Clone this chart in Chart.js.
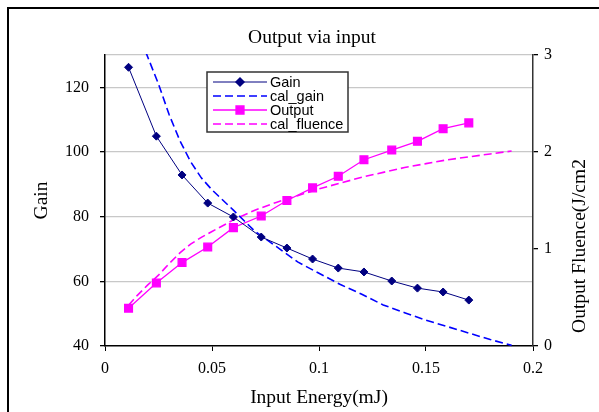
<!DOCTYPE html>
<html><head><meta charset="utf-8">
<script src="https://cdn.jsdelivr.net/npm/chart.js@4.4.0/dist/chart.umd.min.js"></script>
<style>
html,body{margin:0;padding:0;background:#fff;}
#wrap{position:relative;width:599px;height:412px;overflow:hidden;background:#fff;}
#frame{position:absolute;left:7px;top:7px;width:700px;height:500px;border:2px solid #000;box-sizing:border-box;}
canvas{position:absolute;left:0;top:0;}
</style></head><body>
<div id="wrap"><div id="frame"></div><canvas id="c" width="599" height="412"></canvas></div>
<script>
// ---- data ----
const chartTitle = "Output via input";
const xTitle = "Input Energy(mJ)";
const leftTitle = "Gain";
const rightTitle = "Output Fluence(J/cm2";
const seriesNames = ["Gain", "cal_gain", "Output", "cal_fluence"];

const inputEnergy = [0.011, 0.024, 0.036, 0.048, 0.06, 0.073, 0.085, 0.097, 0.109, 0.121, 0.134, 0.146, 0.158, 0.17];
const gain        = [126.2, 104.9, 92.9, 84.2, 79.9, 73.7, 70.3, 66.9, 64.1, 62.9, 60.1, 57.9, 56.7, 54.2];
const output      = [0.39, 0.65, 0.86, 1.02, 1.22, 1.34, 1.50, 1.63, 1.75, 1.92, 2.02, 2.11, 2.24, 2.30];

const calGainEnergy = [0.019, 0.025, 0.03, 0.035, 0.04, 0.045, 0.05, 0.06, 0.07, 0.08, 0.09, 0.1, 0.11, 0.12, 0.13, 0.14, 0.15, 0.16, 0.17, 0.18, 0.19];
const calGain       = [131, 121, 111.5, 103.5, 97, 92, 88.3, 82, 75.5, 70.8, 66, 62.5, 59, 56, 52.7, 50.3, 48, 46, 44, 42, 40.2];

const calFluenceEnergy = [0.011, 0.015, 0.02, 0.025, 0.03, 0.035, 0.04, 0.045, 0.05, 0.06, 0.07, 0.08, 0.09, 0.1, 0.11, 0.12, 0.13, 0.14, 0.15, 0.16, 0.17, 0.18, 0.19];
const calFluence       = [0.42, 0.52, 0.63, 0.73, 0.85, 0.96, 1.05, 1.12, 1.18, 1.30, 1.40, 1.48, 1.55, 1.62, 1.68, 1.74, 1.79, 1.84, 1.88, 1.92, 1.95, 1.98, 2.01];

const xTicks = [0, 0.05, 0.1, 0.15, 0.2];
const leftTicks = [40, 60, 80, 100, 120];
const rightTicks = [0, 1, 2, 3];

const pts = (xs, ys) => xs.map((x, i) => ({x: x, y: ys[i]}));
const SERIF = "'Liberation Serif','Times New Roman',serif";
const SANS = "'Liberation Sans',Arial,sans-serif";

const legendPlugin = {
  id: 'boxLegend',
  afterDraw(chart) {
    const ctx = chart.ctx;
    const x0 = 207, y0 = 72, w = 141, h = 60;
    ctx.save();
    ctx.fillStyle = '#fff';
    ctx.fillRect(x0, y0, w, h);
    ctx.strokeStyle = '#333';
    ctx.lineWidth = 1.5;
    ctx.strokeRect(x0, y0, w, h);
    const rows = [82, 96, 110, 124];
    chart.data.datasets.forEach((ds, i) => {
      const y = rows[i];
      ctx.save();
      ctx.strokeStyle = ds.borderColor;
      ctx.lineWidth = ds.borderWidth;
      ctx.setLineDash(ds.borderDash || []);
      ctx.beginPath();
      ctx.moveTo(213, y);
      ctx.lineTo(267, y);
      ctx.stroke();
      ctx.restore();
      if (ds.pointRadius > 0) {
        ctx.fillStyle = ds.pointBackgroundColor;
        ctx.strokeStyle = ds.pointBorderColor;
        Chart.helpers.drawPoint(ctx, {pointStyle: ds.pointStyle, radius: ds.pointRadius, borderWidth: 1, rotation: 0}, 240, y);
      }
      ctx.fillStyle = '#000';
      ctx.font = "14.5px " + SANS;
      ctx.textBaseline = 'middle';
      ctx.textAlign = 'left';
      ctx.fillText(ds.label, 270, y + 0.5);
    });
    ctx.restore();
  }
};

const titlesPlugin = {
  id: 'extraTitles',
  afterDraw(chart) {
    const ctx = chart.ctx;
    ctx.save();
    ctx.fillStyle = '#000';
    ctx.textAlign = 'center';
    ctx.textBaseline = 'middle';
    ctx.font = "19.5px " + SERIF;
    ctx.fillText(chartTitle, 312, 38);
    ctx.translate(580, 246);
    ctx.rotate(-Math.PI / 2);
    ctx.font = "19.5px " + SERIF;
    ctx.fillText(rightTitle, 0, 0);
    ctx.restore();
  }
};

new Chart(document.getElementById('c'), {
  type: 'scatter',
  data: {
    datasets: [
      {label: seriesNames[0], data: pts(inputEnergy, gain), yAxisID: 'y', showLine: true,
       borderColor: '#000080', backgroundColor: '#000080', borderWidth: 1,
       pointStyle: 'rectRot', pointRadius: 4, pointBackgroundColor: '#000080', pointBorderColor: '#000080', clip: 1},
      {label: seriesNames[1], data: pts(calGainEnergy, calGain), yAxisID: 'y', showLine: true,
       borderColor: '#0000ff', backgroundColor: '#0000ff', borderWidth: 1.6, borderDash: [8, 4],
       pointRadius: 0, clip: 1},
      {label: seriesNames[2], data: pts(inputEnergy, output), yAxisID: 'y1', showLine: true,
       borderColor: '#ff00ff', backgroundColor: '#ff00ff', borderWidth: 1.3,
       pointStyle: 'rect', pointRadius: 5.5, pointBackgroundColor: '#ff00ff', pointBorderColor: '#ff00ff', clip: 1},
      {label: seriesNames[3], data: pts(calFluenceEnergy, calFluence), yAxisID: 'y1', showLine: true,
       borderColor: '#ff00ff', backgroundColor: '#ff00ff', borderWidth: 1.6, borderDash: [8, 4],
       pointRadius: 0, clip: 1}
    ]
  },
  options: {
    responsive: false,
    animation: false,
    devicePixelRatio: 1,
    layout: {padding: {left: 0, right: 0, top: 55, bottom: 0}},
    plugins: {
      legend: {display: false},
      tooltip: {enabled: false},
      title: {display: false}
    },
    scales: {
      x: {
        type: 'linear', min: 0, max: 0.2, position: 'bottom',
        afterBuildTicks: s => { s.ticks = xTicks.map(v => ({value: v})); },
        afterFit: s => { s.height = 66; },
        ticks: {color: '#000', font: {family: SERIF, size: 16}, padding: 8, maxRotation: 0,
                callback: v => String(v)},
        grid: {drawOnChartArea: false, drawTicks: true, tickLength: 5, tickColor: '#000', lineWidth: 1},
        border: {display: true, color: '#000', width: 1.5},
        title: {display: true, text: xTitle, color: '#000', font: {family: SERIF, size: 19.5}, padding: {top: 0, bottom: 2}}
      },
      y: {
        type: 'linear', min: 40, max: 130, position: 'left',
        afterBuildTicks: s => { s.ticks = leftTicks.concat([130]).map(v => ({value: v})); },
        afterFit: s => { s.width = 105; },
        ticks: {color: '#000', font: {family: SERIF, size: 16}, padding: 11,
                callback: v => (v === 130 ? '' : String(v))},
        grid: {drawOnChartArea: true, drawTicks: true, tickLength: 5,
               color: c => (c.tick && c.tick.value === 40 ? 'rgba(0,0,0,0)' : '#c8c8c8'),
               tickColor: c => (c.tick && c.tick.value === 130 ? 'rgba(0,0,0,0)' : '#000'),
               lineWidth: 1.3},
        border: {display: true, color: '#000', width: 1.5},
        title: {display: true, text: leftTitle, color: '#000', font: {family: SERIF, size: 19.5}, padding: {top: 30, bottom: 0}}
      },
      y1: {
        type: 'linear', min: 0, max: 3, position: 'right',
        afterBuildTicks: s => { s.ticks = rightTicks.map(v => ({value: v})); },
        afterFit: s => { s.width = 66; },
        ticks: {color: '#000', font: {family: SERIF, size: 16}, padding: 6, callback: v => String(v)},
        grid: {drawOnChartArea: false, drawTicks: true, tickLength: 5, tickColor: '#000', lineWidth: 1.3},
        border: {display: true, color: '#333', width: 1.5}
      }
    }
  },
  plugins: [legendPlugin, titlesPlugin]
});
</script>
</body></html>
